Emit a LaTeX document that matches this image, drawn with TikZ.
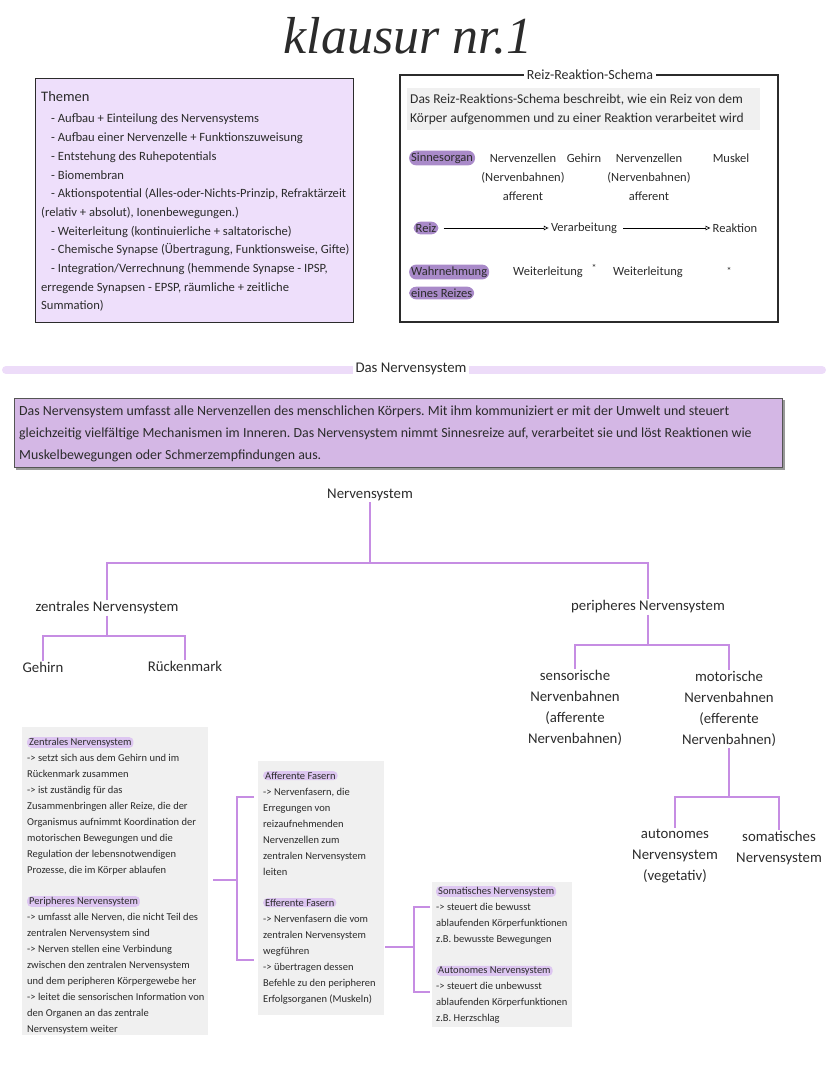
\documentclass[tikz,border=0pt]{standalone}
\usepackage{fontspec}
\setmainfont{Carlito}
\newfontfamily\titlefont{Liberation Serif}
\usetikzlibrary{arrows.meta,positioning}
\frenchspacing

\definecolor{themenbg}{HTML}{EEDFFB}
\definecolor{parabg}{HTML}{D4B7E5}
\definecolor{pillbg}{HTML}{A98AC9}
\definecolor{barcol}{HTML}{EDDCF9}
\definecolor{treeline}{HTML}{C68DE3}
\definecolor{greybg}{HTML}{F0F0F0}
\definecolor{hlbg}{HTML}{DDC6F1}
\definecolor{ink}{HTML}{2B2B2B}

\newcommand{\hlt}[1]{\tikz[baseline=(h.base)]\node[fill=hlbg,rounded corners=4pt,minimum width=0pt,minimum height=0pt,inner xsep=2pt,inner ysep=0.8pt](h){#1};}

\begin{document}
\begin{tikzpicture}[x=1pt,y=-1pt,
  every node/.style={text=ink},
  ast/.style={draw=treeline, line width=1.4pt},
  tnode/.style={align=center, font=\fontsize{14.8}{21}\selectfont, inner sep=1pt},
  rnode/.style={align=center, font=\fontsize{12.5}{19}\selectfont, inner sep=1pt},
  pill/.style={rnode, fill=pillbg, rounded corners=7pt, inner xsep=2pt, inner ysep=2pt},
  greybox/.style={fill=greybg, anchor=north west, inner sep=0pt},
  infotext/.style={anchor=north west, align=left, inner sep=0pt, font=\fontsize{10.5}{16}\selectfont},
  reizpfeil/.style={-{Latex[open,length=5pt,width=5pt]}, line width=0.6pt, shorten <=5pt, shorten >=1pt}
]
%%%%% START %%%%%
\useasboundingbox (0,0) rectangle (828,1069);

% titel
\node[font=\titlefont\itshape\fontsize{52}{52}\selectfont] (titel) at (408,36) {klausur nr.1};

% themen
\node[anchor=north west, fill=themenbg, draw=ink, line width=1.4pt, minimum width=318pt, minimum height=244pt, inner sep=0pt] (themenbox) at (35,78) {};
\node[anchor=north west, align=left, inner sep=0pt, font=\fontsize{12.6}{18.7}\selectfont] (themen) at (41,91) {{\fontsize{14.5}{18}\selectfont Themen}\\[3pt]
\hspace*{10pt}- Aufbau + Einteilung des Nervensystems\\
\hspace*{10pt}- Aufbau einer Nervenzelle + Funktionszuweisung\\
\hspace*{10pt}- Entstehung des Ruhepotentials\\
\hspace*{10pt}- Biomembran\\
\hspace*{10pt}- Aktionspotential (Alles-oder-Nichts-Prinzip, Refraktärzeit\\
(relativ + absolut), Ionenbewegungen.)\\
\hspace*{10pt}- Weiterleitung (kontinuierliche + saltatorische)\\
\hspace*{10pt}- Chemische Synapse (Übertragung, Funktionsweise, Gifte)\\
\hspace*{10pt}- Integration/Verrechnung (hemmende Synapse - IPSP,\\
erregende Synapsen - EPSP, räumliche + zeitliche\\
Summation)};

% reiz-reaktion-schema
\draw[draw=ink, line width=1.3pt] (400,75) rectangle (778,322);
\node[fill=white, font=\fontsize{14}{15}\selectfont, inner xsep=3pt] (rrtitel) at (590,75) {Reiz-Reaktion-Schema};
\node[greybox, minimum width=353pt, minimum height=42pt] (rrbox) at (407,88) {};
\node[anchor=west, align=left, inner sep=0pt, font=\fontsize{13.5}{19}\selectfont] (rrtext) at ([xshift=3pt]rrbox.west) {Das Reiz-Reaktions-Schema beschreibt, wie ein Reiz von dem\\Körper aufgenommen und zu einer Reaktion verarbeitet wird};

\node[pill, anchor=west] (sinn) at (409,158) {Sinnesorgan};
\node[rnode] (nz1) at (523,177) {Nervenzellen\\(Nervenbahnen)\\afferent};
\node[rnode] (geh1) at (584,158) {Gehirn};
\node[rnode] (nz2) at (649,177) {Nervenzellen\\(Nervenbahnen)\\afferent};
\node[rnode] (musk) at (731,158) {Muskel};

\node[pill] (reiz) at (426,228) {Reiz};
\node[rnode] (verarb) at (584,228) {Verarbeitung};
\node[rnode] (reakt) at (735,228) {Reaktion};
\draw[reizpfeil] (reiz) -- (verarb);
\draw[reizpfeil] (verarb) -- (reakt);

\node[pill, anchor=west] (wahr) at (409,272) {Wahrnehmung};
\node[pill, anchor=west] (eines) at (409,293) {eines Reizes};
\node[rnode] (weit1) at (548,272) {Weiterleitung};
\node[rnode, font=\fontsize{10}{10}\selectfont] (stern1) at (594,268) {*};
\node[rnode] (weit2) at (648,272) {Weiterleitung};
\node[rnode, font=\fontsize{10}{10}\selectfont] (stern2) at (729,271) {*};

% das nervensystem
\draw[barcol, line width=8pt, line cap=round] (6,370) -- (822,370);
\node[fill=white, font=\fontsize{14.8}{16}\selectfont, inner xsep=3pt] (nstitel) at (411,369) {Das Nervensystem};

\fill[black!40] (16,400) rectangle (785,470);
\node[anchor=north west, fill=parabg, draw=ink!80, line width=1.2pt, minimum width=768pt, minimum height=69pt, inner sep=0pt] (parabox) at (14,398) {};
\node[anchor=west, align=left, inner sep=0pt, font=\fontsize{13.9}{22}\selectfont] (para) at ([shift={(5,1)}]parabox.west) {Das Nervensystem umfasst alle Nervenzellen des menschlichen Körpers. Mit ihm kommuniziert er mit der Umwelt und steuert\\
gleichzeitig vielfältige Mechanismen im Inneren. Das Nervensystem nimmt Sinnesreize auf, verarbeitet sie und löst Reaktionen wie\\
Muskelbewegungen oder Schmerzempfindungen aus.};

% baum
\node[tnode] (ns) at (370,495) {Nervensystem};
\node[tnode] (zns) at (107,608) {zentrales Nervensystem};
\node[tnode] (pns) at (648,607) {peripheres Nervensystem};
\node[tnode] (geh) at (43,667) {Gehirn};
\node[tnode] (rm) at (185,666) {Rückenmark};
\node[tnode] (sens) at (575,708) {sensorische\\Nervenbahnen\\(afferente\\Nervenbahnen)};
\node[tnode] (mot) at (729,709) {motorische\\Nervenbahnen\\(efferente\\Nervenbahnen)};
\node[tnode] (auto) at (675,856) {autonomes\\Nervensystem\\(vegetativ)};
\node[tnode] (soma) at (779,848) {somatisches\\Nervensystem};

\coordinate (k1) at (370,563);
\coordinate (k2) at (107,636);
\coordinate (k3) at (648,645);
\coordinate (k4) at (729,797);
\draw[ast] (ns) -- (k1);
\draw[ast] (zns) |- (k1) -| (pns);
\draw[ast] (zns) -- (k2);
\draw[ast] (geh) |- (k2) -| (rm);
\draw[ast] (pns) -- (k3);
\draw[ast] (sens) |- (k3) -| (mot);
\draw[ast] (mot) -- (k4);
\draw[ast] (auto) |- (k4) -| (soma);

% kaesten
\node[greybox, minimum width=186pt, minimum height=308pt] (zbox) at (22,727) {};
\node[infotext] (ztext) at ([shift={(5,10)}]zbox.north west) {\hlt{Zentrales Nervensystem}\\
-> setzt sich aus dem Gehirn und im\\
Rückenmark zusammen\\
-> ist zuständig für das\\
Zusammenbringen aller Reize, die der\\
Organismus aufnimmt Koordination der\\
motorischen Bewegungen und die\\
Regulation der lebensnotwendigen\\
Prozesse, die im Körper ablaufen\\[15pt]
\hlt{Peripheres Nervensystem}\\
-> umfasst alle Nerven, die nicht Teil des\\
zentralen Nervensystem sind\\
-> Nerven stellen eine Verbindung\\
zwischen den zentralen Nervensystem\\
und dem peripheren Körpergewebe her\\
-> leitet die sensorischen Information von\\
den Organen an das zentrale\\
Nervensystem weiter};

\node[greybox, minimum width=126pt, minimum height=254pt] (abox) at (258,761) {};
\node[infotext] (atext) at ([shift={(5,10)}]abox.north west) {\hlt{Afferente Fasern}\\
-> Nervenfasern, die\\
Erregungen von\\
reizaufnehmenden\\
Nervenzellen zum\\
zentralen Nervensystem\\
leiten\\[15pt]
\hlt{Efferente Fasern}\\
-> Nervenfasern die vom\\
zentralen Nervensystem\\
wegführen\\
-> übertragen dessen\\
Befehle zu den peripheren\\
Erfolgsorganen (Muskeln)};

\node[greybox, minimum width=140pt, minimum height=145pt] (sbox) at (432,882) {};
\node[infotext] (stext) at ([shift={(4,4)}]sbox.north west) {\hlt{Somatisches Nervensystem}\\
-> steuert die bewusst\\
ablaufenden Körperfunktionen\\
z.B. bewusste Bewegungen\\[15pt]
\hlt{Autonomes Nervensystem}\\
-> steuert die unbewusst\\
ablaufenden Körperfunktionen\\
z.B. Herzschlag};

\coordinate (b1) at (237,880);
\coordinate (b2) at (414,947);
\draw[ast] ([xshift=5pt]zbox.east |- b1) -- (b1);
\draw[ast] (254,797) -| (b1) |- (254,960);
\draw[ast] ([xshift=1pt]abox.east |- b2) -- (b2);
\draw[ast] (430,907) -| (b2) |- (430,992);

%%%%% END %%%%%
\end{tikzpicture}
\end{document}
